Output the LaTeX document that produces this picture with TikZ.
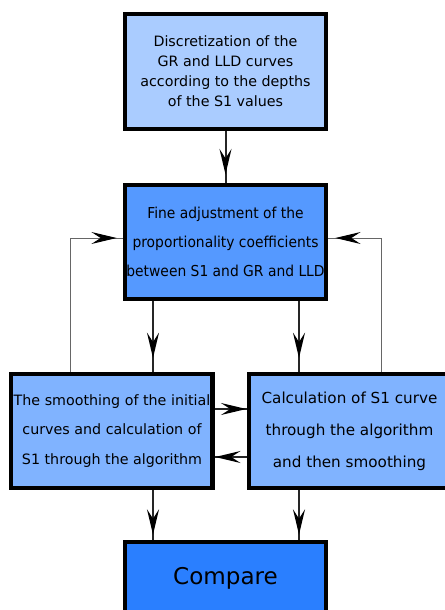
\documentclass[tikz,border=0pt]{standalone}
\usepackage{fontspec}
\setmainfont{DejaVu Sans}
\newfontfamily\narrowfont{DejaVu Sans}[FakeStretch=0.92]
\usetikzlibrary{arrows.meta,positioning,decorations.markings}
\definecolor{pale-blue}{HTML}{AACCFF}
\definecolor{mid-blue}{HTML}{80B3FF}
\definecolor{sky-blue}{HTML}{5599FF}
\definecolor{deep-blue}{HTML}{2A7FFF}

\begin{document}
\begin{tikzpicture}
    [node distance=3cm,
    on grid,
    stage/.style = {shape=rectangle, draw=black, line width=3pt, align=center,
      minimum width=150.75pt, minimum height=85.5pt, inner sep=0pt},
    head/.style = {postaction={decorate}, decoration={markings,
      mark=at position -#1 with {\arrow{Stealth[length=19pt, width=9pt, inset=7pt, color=black]}}}},
    post/.style={draw=black!85, line width=1.5pt},
    back link/.style={draw=black!60, line width=0.75pt}]

    \useasboundingbox (-169.125pt,53.625pt) rectangle (163.875pt,-403.875pt);

    \node [stage, fill=pale-blue, minimum height=86.25pt, font=\fontsize{10.7}{15}\selectfont] (disc)
      {Discretization of the\\ GR and LLD curves\\ according to the depths\\ of the S1 values};
    \node [stage, fill=sky-blue, font=\narrowfont\fontsize{11.3}{22}\selectfont] (fine) [below=127.875pt of disc]
      {Fine adjustment of the\\ proportionality coefficients\\ between S1 and GR and LLD};
    \node [stage, fill=mid-blue, font=\fontsize{10.7}{22}\selectfont] (smooth) [below left=141.75pt and 85.125pt of fine]
      {The smoothing of the initial\\ curves and calculation of\\ S1 through the algorithm};
    \node [stage, fill=mid-blue, font=\fontsize{11.4}{24}\selectfont] (calc) [right=178.125pt of smooth]
      {Calculation of S1 curve\\ through the algorithm\\ and then smoothing};
    \node [stage, fill=deep-blue, minimum height=54pt, font=\fontsize{17.3}{20}\selectfont] (compare) [below right=110.25pt and 85.125pt of smooth]
      {Compare};

    \draw [post, head=6.5pt] (disc) -- (fine);
    \coordinate (a1) at ([xshift=22.5pt]fine.south west);
    \coordinate (a2) at ([xshift=-21.75pt]fine.south east);
    \draw [post, head=10.5pt] (a1) -- (a1 |- smooth.north);
    \draw [post, head=10.5pt] (a2) -- (a2 |- calc.north);
    \draw [post, head=4pt] (a1 |- smooth.south) -- (a1 |- compare.north);
    \draw [post, head=4pt] (a2 |- calc.south) -- (a2 |- compare.north);
    \draw [post, line width=1.2pt, head=0.5pt] ([yshift=16.5pt]smooth.east) -- ([yshift=16.5pt]smooth.east -| calc.west);
    \draw [post, line width=1.2pt, head=0.5pt] ([yshift=-19.5pt]calc.west) -- ([yshift=-19.5pt]calc.west -| smooth.east);
    \draw [back link, head=4.75pt] ([xshift=45.75pt]smooth.north west) |- ([yshift=3pt]fine.west);
    \draw [back link, head=5.5pt] ([xshift=100.5pt]calc.north west) |- ([yshift=3pt]fine.east);
\end{tikzpicture}
\end{document}
